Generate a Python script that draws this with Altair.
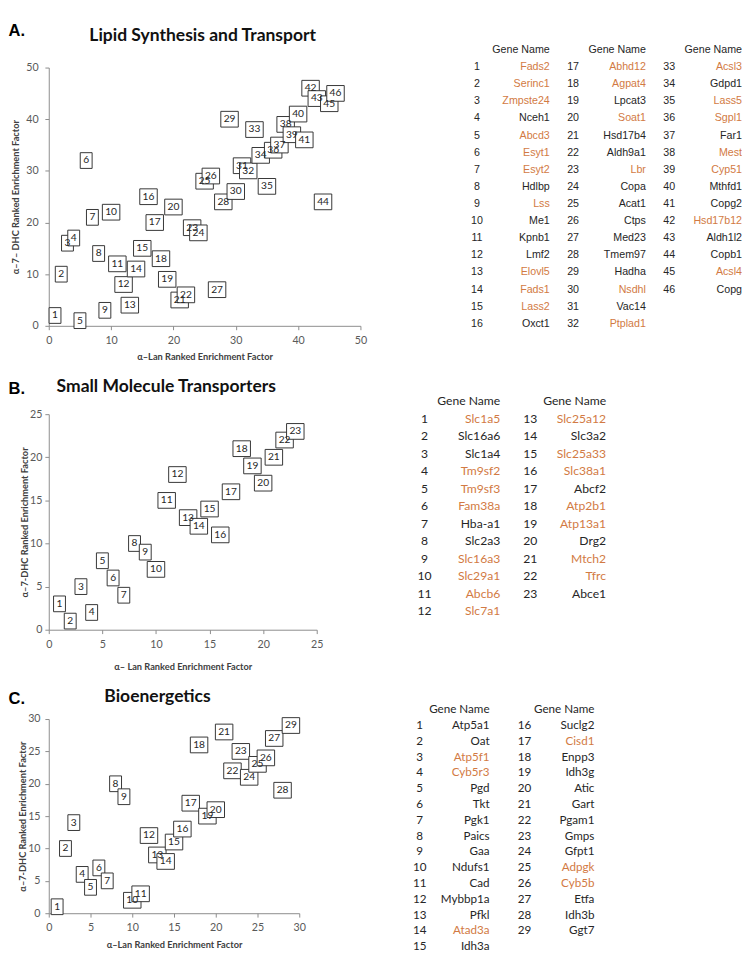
import altair as alt
import pandas as pd

# ---------------- data ----------------
# Panel A: Lipid Synthesis and Transport
A_LAN = [1, 2, 3, 4, 5, 6, 7, 8, 9, 10, 11, 12, 13, 14, 15, 16, 17, 18, 19, 20, 21, 22, 23,
         24, 25, 26, 27, 28, 29, 30, 31, 32, 33, 34, 35, 36, 37, 38, 39, 40, 41, 42, 43, 44, 45, 46]
A_DHC = [2, 10, 16, 17, 1, 32, 21, 14, 3, 22, 12, 8, 4, 11, 15, 25, 20, 13, 9, 23, 5, 6, 19,
         18, 28, 29, 7, 24, 40, 26, 31, 30, 38, 33, 27, 34, 35, 39, 37, 41, 36, 46, 44, 24, 43, 45]
A_GENES = ["Fads2", "Serinc1", "Zmpste24", "Nceh1", "Abcd3", "Esyt1", "Esyt2", "Hdlbp", "Lss",
           "Me1", "Kpnb1", "Lmf2", "Elovl5", "Fads1", "Lass2", "Oxct1",
           "Abhd12", "Agpat4", "Lpcat3", "Soat1", "Hsd17b4", "Aldh9a1", "Lbr", "Copa", "Acat1",
           "Ctps", "Med23", "Tmem97", "Hadha", "Nsdhl", "Vac14", "Ptplad1",
           "Acsl3", "Gdpd1", "Lass5", "Sgpl1", "Far1", "Mest", "Cyp51", "Mthfd1", "Copg2",
           "Hsd17b12", "Aldh1l2", "Copb1", "Acsl4", "Copg"]
A_HL = [1, 1, 1, 0, 1, 1, 1, 0, 1, 0, 0, 0, 1, 1, 1, 0,
        1, 1, 0, 1, 0, 0, 1, 0, 0, 0, 0, 0, 0, 1, 0, 1,
        1, 0, 1, 1, 0, 1, 1, 0, 0, 1, 0, 0, 1, 0]

# Panel B: Small Molecule Transporters
B_LAN = [1, 2, 3, 4, 5, 6, 7, 8, 9, 10, 11, 12, 13, 14, 15, 16, 17, 18, 19, 20, 21, 22, 23]
B_DHC = [3, 1, 5, 2, 8, 6, 4, 10, 9, 7, 15, 18, 13, 12, 14, 11, 16, 21, 19, 17, 20, 22, 23]
B_GENES = ["Slc1a5", "Slc16a6", "Slc1a4", "Tm9sf2", "Tm9sf3", "Fam38a", "Hba-a1", "Slc2a3",
           "Slc16a3", "Slc29a1", "Abcb6", "Slc7a1",
           "Slc25a12", "Slc3a2", "Slc25a33", "Slc38a1", "Abcf2", "Atp2b1", "Atp13a1", "Drg2",
           "Mtch2", "Tfrc", "Abce1"]
B_HL = [1, 0, 0, 1, 1, 1, 0, 0, 1, 1, 1, 1,
        1, 0, 1, 1, 0, 1, 1, 0, 1, 1, 0]

# Panel C: Bioenergetics
C_LAN = [1, 2, 3, 4, 5, 6, 7, 8, 9, 10, 11, 12, 13, 14, 15, 16, 17, 18, 19, 20, 21, 22, 23,
         24, 25, 26, 27, 28, 29]
C_DHC = [1, 10, 14, 6, 4, 7, 5, 20, 18, 2, 3, 12, 9, 8, 11, 13, 17, 26, 15, 16, 28, 22, 25,
         21, 23, 24, 27, 19, 29]
C_GENES = ["Atp5a1", "Oat", "Atp5f1", "Cyb5r3", "Pgd", "Tkt", "Pgk1", "Paics", "Gaa", "Ndufs1",
           "Cad", "Mybbp1a", "Pfkl", "Atad3a", "Idh3a",
           "Suclg2", "Cisd1", "Enpp3", "Idh3g", "Atic", "Gart", "Pgam1", "Gmps", "Gfpt1",
           "Adpgk", "Cyb5b", "Etfa", "Idh3b", "Ggt7"]
C_HL = [0, 0, 1, 1, 0, 0, 0, 0, 0, 0, 0, 0, 0, 1, 0,
        0, 1, 0, 0, 0, 0, 0, 0, 0, 1, 1, 0, 0, 0]

# ---------------- style ----------------
FONT = "Lato"
TABLE_A_FONT = "Liberation Sans"
ORANGE = "#D27A43"
INK = "#262626"
AXIS_C = "#8A8A8A"
LABEL_C = "#595959"
TITLE_C = "#404040"
BOX1 = "M-0.68,-0.9L0.68,-0.9L0.68,0.9L-0.68,0.9Z"
BOX2 = "M-1,-0.9L1,-0.9L1,0.9L-1,0.9Z"


def scatter(lan, dhc, dmax, step, w, h, title, xtitle, ytitle, tdx, toff, ytx, ylp, xty):
    labels = [str(i + 1) for i in range(len(lan))]
    df = pd.DataFrame({"lan": lan, "dhc": dhc, "label": labels,
                       "digits": [str(len(s)) for s in labels]})
    ticks = list(range(0, dmax + 1, step))
    common = dict(values=ticks, grid=False, domainColor=AXIS_C, tickColor=AXIS_C, tickSize=4,
                  labelFont=FONT, labelFontSize=11, labelColor=LABEL_C, labelFlush=False,
                  labelOverlap=False, titleFont=FONT, titleFontSize=9.5,
                  titleFontWeight="bold", titleColor=TITLE_C)
    xax = alt.Axis(title=xtitle, labelPadding=5, titleY=xty, **common)
    yax = alt.Axis(title=ytitle, labelPadding=ylp, titleX=ytx, **common)
    base = alt.Chart(df).encode(
        x=alt.X("lan:Q", scale=alt.Scale(domain=[0, dmax], nice=False), axis=xax),
        y=alt.Y("dhc:Q", scale=alt.Scale(domain=[0, dmax], nice=False), axis=yax),
    )
    boxes = base.mark_point(filled=True, fill="white", stroke="#333333", strokeWidth=1,
                            opacity=1, fillOpacity=1, strokeOpacity=1, size=324).encode(
        shape=alt.Shape("digits:N", scale=alt.Scale(domain=["1", "2"], range=[BOX1, BOX2]),
                        legend=None))
    text = base.mark_text(font=FONT, fontSize=10.5, color=INK, align="center",
                          baseline="middle").encode(text="label:N")
    return alt.layer(boxes, text).properties(
        width=w, height=h,
        title=alt.Title(title, font=FONT, fontSize=18, fontWeight="bold", color="#111111",
                        anchor="middle", frame="group", dx=tdx, offset=toff))


def table(genes, hl, nrows, colspan, yrange, h, gdx, font, fs):
    ncols = (len(genes) + nrows - 1) // nrows
    df = pd.DataFrame({
        "num": [str(i + 1) for i in range(len(genes))],
        "gene": genes,
        "col": [i // nrows for i in range(len(genes))],
        "row": [i % nrows + 1 for i in range(len(genes))],
        "hue": ["orange" if f else "black" for f in hl],
    })
    hdr = pd.DataFrame({"col": list(range(ncols)), "row": [0] * ncols,
                        "txt": ["Gene Name"] * ncols})
    xs = alt.X("col:Q", scale=alt.Scale(domain=[0, ncols - 1], range=[0, colspan]), axis=None)
    ys = alt.Y("row:Q", scale=alt.Scale(domain=[0, nrows], range=yrange), axis=None)
    nums = alt.Chart(df).mark_text(align="center", baseline="middle", font=font, fontSize=fs,
                                   color=INK).encode(x=xs, y=ys, text="num:N")
    gene = alt.Chart(df).mark_text(align="right", baseline="middle", font=font, fontSize=fs,
                                   dx=gdx).encode(
        x=xs, y=ys, text="gene:N",
        color=alt.Color("hue:N", scale=alt.Scale(domain=["orange", "black"],
                                                 range=[ORANGE, INK]), legend=None))
    head = alt.Chart(hdr).mark_text(align="right", baseline="middle", font=font, fontSize=fs,
                                    color=INK, dx=gdx).encode(x=xs, y=ys, text="txt:N")
    return alt.layer(nums, gene, head).properties(width=colspan, height=h)


def letter(t, dx, dy):
    return alt.Title(t, font="Liberation Sans", fontSize=17, fontWeight="bold", color="#000000",
                     anchor="start", dx=dx, dy=dy, offset=0)


scA = scatter(A_LAN, A_DHC, 50, 10, 321, 266, "Lipid Synthesis and Transport",
              "α–Lan  Ranked Enrichment  Factor", "α–7– DHC Ranked Enrichment Factor",
              -2, 17, -29.5, 7, 27)
tbA = table(A_GENES, A_HL, 16, 198, [-18, 264], 266, 75, TABLE_A_FONT, 11)
rowA = alt.hconcat(alt.vconcat(scA, title=letter("A.", -2, 12)), tbA, spacing=106)

scB = scatter(B_LAN, B_DHC, 25, 5, 276, 222, "Small Molecule Transporters",
              "α– Lan Ranked Enrichment  Factor", "α–7-DHC Ranked Enrichment  Factor",
              -17, 13, -19.5, 3, 33)
tbB = table(B_GENES, B_HL, 12, 109, [-13, 203], 222, 78, FONT, 12.5)
rowB = alt.hconcat(alt.vconcat(scB, title=letter("B.", -12, 20)), tbB, spacing=96)

scC = scatter(C_LAN, C_DHC, 30, 5, 258, 200, "Bioenergetics",
              "α–Lan  Ranked Enrichment Factor", "α–7-DHC  Ranked Enrichment  Factor",
              -17, 8, -21.5, 5, 27)
tbC = table(C_GENES, C_HL, 15, 108, [-10, 234], 200, 72, FONT, 12)
rowC = alt.hconcat(alt.vconcat(scC, title=letter("C.", -10, 20)), tbC, spacing=110)

chart = alt.vconcat(rowA, rowB, rowC, spacing=17).properties(
    padding={"left": 0, "top": 0, "right": 0, "bottom": 0}, background="white"
).configure_view(stroke=None)

chart.save("out.html", embed_options={"renderer": "svg", "actions": False})
